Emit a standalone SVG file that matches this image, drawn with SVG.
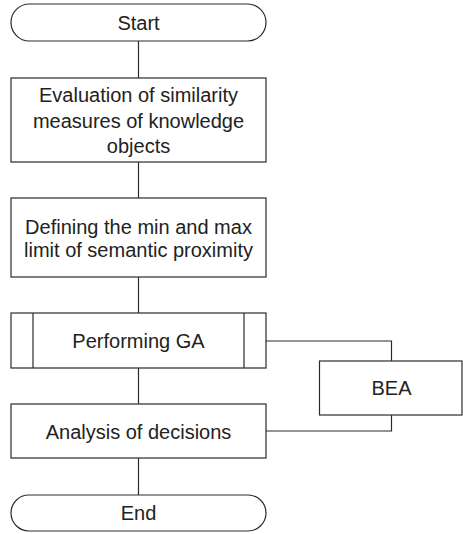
<svg xmlns="http://www.w3.org/2000/svg" width="463" height="534" viewBox="0 0 463 534">
<style>
.s{fill:#fff;stroke:#2b2b2b;stroke-width:1.2}
.c{fill:none;stroke:#2b2b2b;stroke-width:1.2}
text{font-family:"Liberation Sans",Arial,sans-serif;font-size:20px;fill:#222;text-anchor:middle}
</style>
<rect width="463" height="534" fill="#fff"/>
<g id="connectors">
<line class="c" x1="138.5" y1="41" x2="138.5" y2="78"/>
<line class="c" x1="138.5" y1="162" x2="138.5" y2="198"/>
<line class="c" x1="138.5" y1="277" x2="138.5" y2="313"/>
<line class="c" x1="138.5" y1="368" x2="138.5" y2="404"/>
<line class="c" x1="138.5" y1="458" x2="138.5" y2="495"/>
<polyline class="c" points="266,341 391.5,341 391.5,361"/>
<polyline class="c" points="391.5,415 391.5,431 266,431"/>
</g>
<g id="start">
<rect class="s" x="11" y="4" width="255" height="37" rx="18.5"/>
<text x="138.5" y="29.5">Start</text>
</g>
<g id="evaluation">
<rect class="s" x="11" y="78" width="255" height="84"/>
<text x="138.5" y="102">Evaluation of similarity</text>
<text x="138.5" y="128">measures of knowledge</text>
<text x="138.5" y="153">objects</text>
</g>
<g id="defining">
<rect class="s" x="11" y="198" width="255" height="79"/>
<text x="138.5" y="234">Defining the min and max</text>
<text x="138.5" y="257">limit of semantic proximity</text>
</g>
<g id="ga">
<rect class="s" x="11" y="313" width="255" height="55"/>
<line class="c" x1="33" y1="313" x2="33" y2="368"/>
<line class="c" x1="244" y1="313" x2="244" y2="368"/>
<text x="138.5" y="347.5">Performing GA</text>
</g>
<g id="bea">
<rect class="s" x="319.5" y="361" width="142.5" height="54"/>
<text x="391.5" y="394.5">BEA</text>
</g>
<g id="analysis">
<rect class="s" x="11" y="404" width="255" height="54"/>
<text x="138.5" y="438.5">Analysis of decisions</text>
</g>
<g id="end">
<rect class="s" x="11" y="495" width="255" height="36" rx="18"/>
<text x="138.5" y="519.5">End</text>
</g>
</svg>
